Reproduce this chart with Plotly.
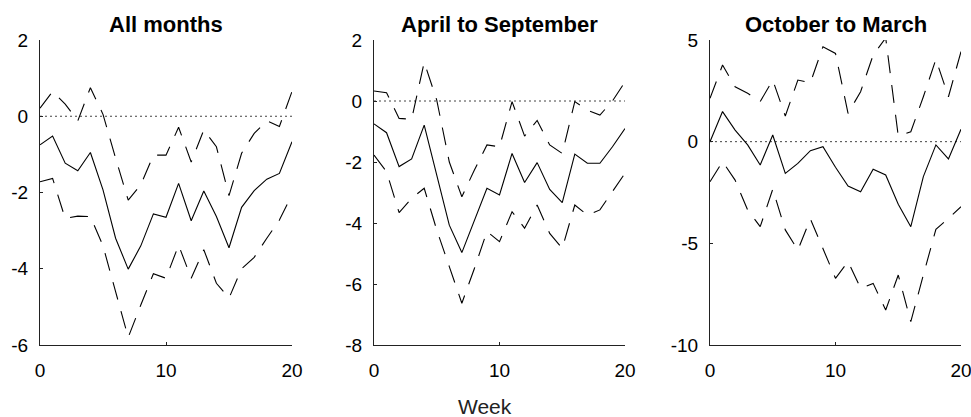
import plotly.graph_objects as go

weeks = list(range(21))

titles = ["All months", "April to September", "October to March"]

all_mid = [-0.75, -0.52, -1.23, -1.43, -0.95, -1.93, -3.2, -4.01, -3.4, -2.56, -2.65,
           -1.76, -2.74, -1.96, -2.63, -3.45, -2.39, -1.95, -1.65, -1.5, -0.67]
all_up = [0.21, 0.65, 0.32, -0.12, 0.75, 0.05, -1.1, -2.2, -1.8, -1.02, -1.02,
          -0.29, -1.2, -0.36, -0.8, -2.08, -0.97, -0.45, -0.12, -0.27, 0.65]
all_lo = [-1.72, -1.63, -2.68, -2.62, -2.63, -3.4, -4.6, -5.8, -4.95, -4.13, -4.25,
          -3.38, -4.25, -3.5, -4.38, -4.77, -4.0, -3.7, -3.2, -2.72, -2.06]

as_mid = [-0.75, -1.04, -2.15, -1.9, -0.79, -2.43, -4.07, -4.97, -3.92, -2.86, -3.08,
          -1.72, -2.67, -2.02, -2.9, -3.33, -1.74, -2.04, -2.04, -1.5, -0.9]
as_up = [0.33, 0.27, -0.57, -0.6, 1.27, 0.03, -2.0, -3.14, -2.26, -1.44, -1.5,
         -0.02, -1.15, -0.64, -1.44, -1.72, -0.02, -0.3, -0.46, -0.0, 0.63]
as_lo = [-1.77, -2.32, -3.66, -3.19, -2.86, -4.23, -5.43, -6.63, -5.49, -4.28, -4.61,
         -3.63, -4.17, -3.41, -4.34, -4.83, -3.41, -3.74, -3.57, -2.97, -2.37]

om_mid = [0.0, 1.48, 0.57, -0.16, -1.15, 0.33, -1.56, -1.07, -0.44, -0.25, -1.26,
          -2.18, -2.46, -1.36, -1.64, -3.08, -4.18, -1.72, -0.16, -0.85, 0.61]
om_up = [2.13, 3.77, 2.7, 2.38, 1.97, 3.03, 1.26, 3.03, 2.9, 4.67, 4.34,
         1.39, 2.46, 4.26, 5.1, 0.28, 0.49, 2.21, 4.05, 2.21, 4.43]
om_lo = [-1.97, -0.98, -1.89, -3.36, -4.18, -2.34, -4.34, -5.33, -3.8, -5.25, -6.72,
         -5.9, -7.21, -6.97, -8.28, -6.56, -8.85, -6.56, -4.31, -3.77, -3.2]

panels = [(all_mid, all_up, all_lo), (as_mid, as_up, as_lo), (om_mid, om_up, om_lo)]
y_ranges = [[-6, 2], [-8, 2], [-10, 5]]
y_ticks = [[-6, -4, -2, 0, 2], [-8, -6, -4, -2, 0, 2], [-10, -5, 0, 5]]
x_ticks = [0, 10, 20]

W, H = 971, 417
x_dom = [[40 / W, 292 / W], [374 / W, 625 / W], [710 / W, 961 / W]]
y_dom = [1 - 345 / H, 1 - 40 / H]

FONT = "Liberation Sans, Arial, Helvetica, sans-serif"

fig = go.Figure()
layout = dict(
    template="none",
    width=W, height=H,
    margin=dict(l=0, r=0, t=0, b=0, pad=0),
    paper_bgcolor="white", plot_bgcolor="white",
    showlegend=False,
    font=dict(family=FONT, size=19, color="black"),
)
annotations = []
shapes = []
for i, (mid, up, lo) in enumerate(panels):
    sfx = "" if i == 0 else str(i + 1)
    xa, ya = "x" + sfx, "y" + sfx
    for series, dash in ((up, "18px,12px"), (lo, "18px,12px"), (mid, "solid")):
        fig.add_trace(go.Scatter(x=weeks, y=series, mode="lines", xaxis=xa, yaxis=ya,
                                 line=dict(color="black", width=1.1, dash=dash),
                                 hoverinfo="skip"))
    layout["xaxis" + sfx] = dict(
        domain=x_dom[i], range=[0, 20], anchor=ya, automargin=False,
        tickvals=x_ticks, ticktext=[str(v) for v in x_ticks],
        ticklabeloverflow="allow",
        showgrid=False, zeroline=False, showline=True, linecolor="#222", linewidth=1,
        ticks="inside", ticklen=3, tickcolor="#222",
        tickfont=dict(size=19, family=FONT, color="black"), ticklabelstandoff=8,
    )
    layout["yaxis" + sfx] = dict(
        domain=y_dom, range=y_ranges[i], anchor=xa, automargin=False,
        tickvals=y_ticks[i], ticktext=[str(v) for v in y_ticks[i]],
        ticklabeloverflow="allow",
        showgrid=False, zeroline=False, showline=True, linecolor="#222", linewidth=1,
        ticks="inside", ticklen=3, tickcolor="#222",
        tickfont=dict(size=19, family=FONT, color="black"), ticklabelstandoff=7,
    )
    shapes.append(dict(type="line", xref=xa, yref=ya, x0=0, x1=20, y0=0, y1=0,
                       line=dict(color="#444", width=1, dash="2px,3px"), layer="below"))
    annotations.append(dict(text="<b>" + titles[i] + "</b>", xref="paper", yref="paper",
                            x=(x_dom[i][0] + x_dom[i][1]) / 2, y=1 - 25 / H,
                            xanchor="center", yanchor="middle", showarrow=False,
                            font=dict(size=22, family=FONT, color="black")))

annotations.append(dict(text="Week", xref="paper", yref="paper", x=485 / W, y=1 - 406 / H,
                        xanchor="center", yanchor="middle", showarrow=False,
                        font=dict(size=21, family=FONT, color="#222")))
layout["annotations"] = annotations
layout["shapes"] = shapes
fig.update_layout(**layout)
fig.write_html("out.html")
